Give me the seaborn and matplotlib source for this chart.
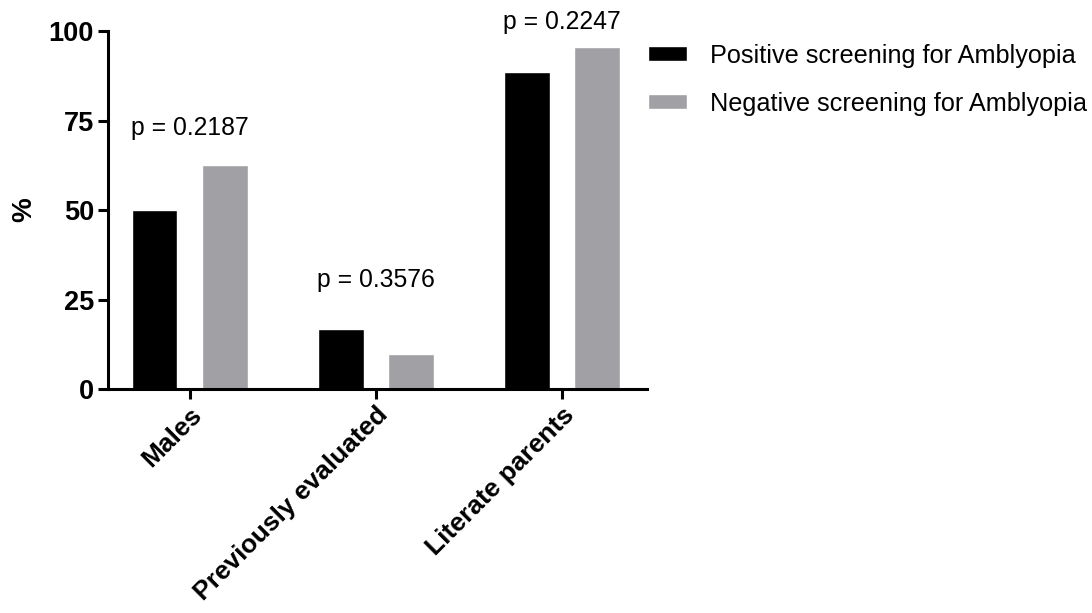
import matplotlib
matplotlib.use('Agg')
import matplotlib.pyplot as plt
import pandas as pd
import seaborn as sns

# Data
categories = ['Males', 'Previously evaluated', 'Literate parents']
positive = [50.0, 16.7, 88.6]
negative = [62.5, 9.8, 95.5]
series_names = ['Positive screening for Amblyopia', 'Negative screening for Amblyopia']
p_labels = ['p = 0.2187', 'p = 0.3576', 'p = 0.2247']
p_heights = [73, 30.5, 102.5]

df = pd.DataFrame({
    'category': categories * 2,
    'value': positive + negative,
    'group': [series_names[0]] * 3 + [series_names[1]] * 3,
})

sns.set_style('ticks')
plt.rcParams['font.family'] = ['Liberation Sans', 'DejaVu Sans']
plt.rcParams['text.color'] = 'black'

fig = plt.figure(figsize=(10.92, 6.13), dpi=100)
ax = fig.add_axes([0.0989, 0.3654, 0.4936, 0.584])

sns.barplot(data=df, x='category', y='value', hue='group',
            palette=['#000000', '#a1a1a5'], width=0.76, gap=0.35,
            saturation=1, ax=ax)

ax.set_xlim(-0.44, 2.457)
ax.set_ylim(0, 100)
ax.set_yticks([0, 25, 50, 75, 100])
ax.set_xlabel('')
ax.set_ylabel('%', fontsize=20, fontweight='bold', labelpad=8, color='black')

for sp in ['top', 'right']:
    ax.spines[sp].set_visible(False)
for sp in ['left', 'bottom']:
    ax.spines[sp].set_linewidth(2.2)
    ax.spines[sp].set_color('black')
ax.tick_params(axis='both', width=2.2, length=7, labelsize=19.5, colors='black', pad=3)
for lab in ax.get_yticklabels():
    lab.set_fontweight('bold')
ax.set_xticks(range(len(categories)))
ax.set_xticklabels(categories, rotation=45, ha='right', rotation_mode='anchor',
                   fontweight='bold', fontsize=19)

# p-values above each group
for i, (txt, h) in enumerate(zip(p_labels, p_heights)):
    ax.text(i, h, txt, ha='center', va='center', fontsize=17.8,
            color='black', clip_on=False)

leg = ax.legend(title=None, frameon=False, loc='upper left',
                bbox_to_anchor=(1.002, 0.965), borderaxespad=0, borderpad=0,
                fontsize=18.2, handlelength=1.55, handleheight=0.58,
                handletextpad=0.9, labelspacing=0.95)
for t in leg.get_texts():
    t.set_color('black')

fig.savefig('out.png', dpi=100)
